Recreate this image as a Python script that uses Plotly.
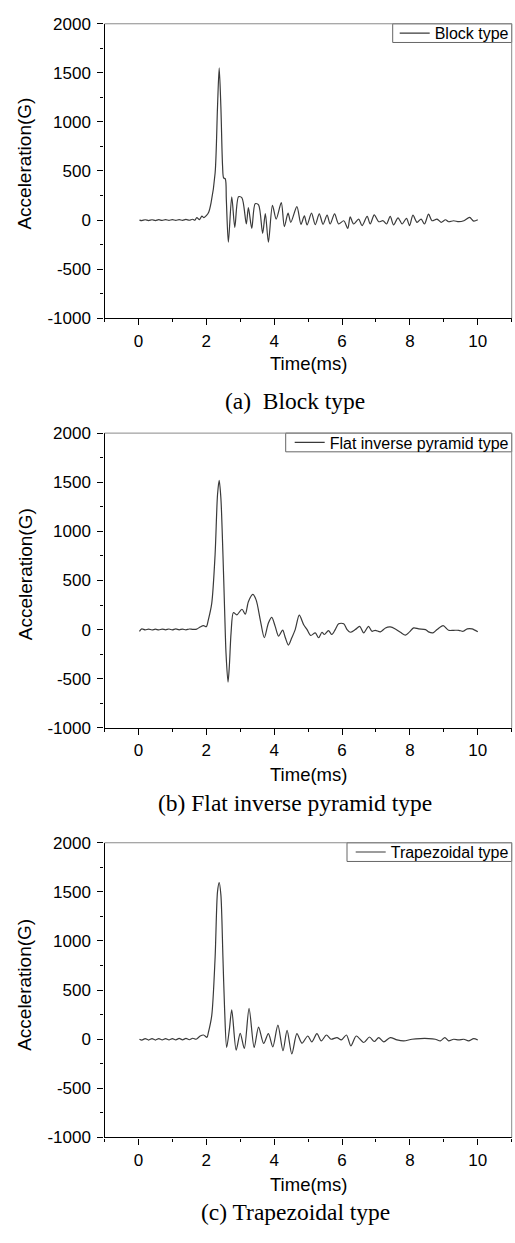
import plotly.graph_objects as go

# ---------------- data ----------------
t_block = [0.03, 0.10, 0.20, 0.30, 0.40, 0.50, 0.60, 0.70, 0.80, 0.90, 1.00, 1.10, 1.20, 1.30,
           1.40, 1.50, 1.60, 1.66, 1.72, 1.80, 1.87, 1.93, 2.00, 2.07, 2.14, 2.26, 2.33, 2.38,
           2.43, 2.48, 2.51, 2.56, 2.59, 2.65, 2.75, 2.84, 2.95, 3.05, 3.18, 3.24, 3.34, 3.44,
           3.54, 3.66, 3.74, 3.83, 3.95, 4.06, 4.21, 4.30, 4.41, 4.49, 4.67, 4.79, 4.89, 4.97,
           5.10, 5.21, 5.33, 5.44, 5.56, 5.65, 5.78, 5.90, 6.05, 6.17, 6.24, 6.34, 6.49, 6.59,
           6.74, 6.83, 6.95, 7.08, 7.21, 7.31, 7.42, 7.52, 7.65, 7.77, 7.90, 7.99, 8.09, 8.21,
           8.33, 8.43, 8.55, 8.65, 8.80, 8.92, 9.05, 9.14, 9.29, 9.44, 9.59, 9.76, 9.88, 10.0]
a_block = [0, -5, 3, -5, 3, -5, 4, -4, 5, -4, 5, -4, 5, -3,
           6, -2, 8, -2, 25, 5, 40, 25, 45, 80, 175, 480, 1150, 1550,
           1150, 545, 430, 420, 210, -225, 237, -75, 237, 227, -40, 127, -85, 167,
           154, -135, 67, -225, 150, 10, 177, -67, 70, -23, 137, -43, 43, -50,
           70, -47, 63, -43, 50, -40, 63, -40, -7, -85, 33, -40, 10, -57,
           37, -40, 53, -17, -7, -40, 37, -50, 23, -40, 17, -57, 50, -23,
           10, -40, 60, -7, 10, -23, 3, -17, -7, -17, -7, 27, -10, 3]

t_pyramid = [0.03, 0.10, 0.20, 0.30, 0.40, 0.50, 0.60, 0.70, 0.80, 0.90, 1.00, 1.10, 1.20, 1.30,
             1.40, 1.50, 1.60, 1.72, 1.82, 1.92, 2.00, 2.06, 2.16, 2.26, 2.33, 2.38, 2.43, 2.49,
             2.54, 2.58, 2.64, 2.68, 2.73, 2.80, 2.90, 3.05, 3.15, 3.24, 3.37, 3.47, 3.59, 3.71,
             3.83, 3.93, 4.03, 4.13, 4.25, 4.33, 4.42, 4.52, 4.62, 4.74, 4.87, 4.97, 5.08, 5.21,
             5.31, 5.41, 5.48, 5.60, 5.70, 5.80, 5.90, 6.05, 6.15, 6.24, 6.39, 6.52, 6.64, 6.78,
             6.88, 6.98, 7.13, 7.28, 7.42, 7.57, 7.72, 7.87, 7.99, 8.11, 8.26, 8.46, 8.55, 8.68,
             8.80, 8.98, 9.14, 9.29, 9.44, 9.57, 9.69, 9.83, 10.0]
a_pyramid = [-17, 7, -3, 5, -4, 4, -3, 5, -2, 6, -3, 7, -2, 5,
             -3, 6, 2, 5, 27, 40, 30, 100, 267, 770, 1370, 1520, 1337, 770,
             200, -234, -535, -368, -33, 174, 150, 207, 157, 284, 358, 300, 100, -83,
             67, 124, 33, -67, -5, -83, -157, -83, 0, 147, 50, 0, -60, -33,
             -83, -27, -50, -10, -50, 0, 60, 60, 0, -27, 0, 33, -33, 33,
             -17, -7, -23, 17, 27, 7, -27, -57, -23, 17, 7, 0, -23, -33,
             0, 40, -7, -7, -7, -17, 7, 7, -23]

t_trap = [0.03, 0.10, 0.20, 0.30, 0.40, 0.50, 0.60, 0.70, 0.80, 0.90, 1.00, 1.10, 1.20, 1.30,
          1.40, 1.50, 1.60, 1.70, 1.82, 1.92, 2.02, 2.06, 2.16, 2.26, 2.33, 2.38, 2.43, 2.49,
          2.54, 2.60, 2.68, 2.75, 2.88, 3.00, 3.12, 3.26, 3.41, 3.54, 3.69, 3.83, 3.96, 4.11,
          4.26, 4.38, 4.52, 4.67, 4.82, 4.99, 5.11, 5.26, 5.39, 5.54, 5.68, 5.85, 5.98, 6.13,
          6.26, 6.42, 6.64, 6.81, 6.95, 7.08, 7.23, 7.42, 7.62, 7.82, 8.06, 8.31, 8.55, 8.75,
          8.90, 9.03, 9.14, 9.29, 9.44, 9.59, 9.73, 9.88, 10.0]
a_trap = [0, -8, 6, -8, 6, -8, 6, -7, 7, -7, 7, -6, 8, -6,
          8, -5, 10, 0, 33, 43, 20, 67, 240, 835, 1500, 1595, 1470, 835,
          300, -84, 100, 300, -110, 60, -94, 314, -84, 124, -43, 57, -77, 144,
          -117, 90, -150, 57, -40, 33, -27, 57, -17, 43, 0, 17, -7, 43,
          -67, 33, -33, 23, -23, 17, -27, 17, -7, -17, 0, 7, 7, 0,
          -17, 17, -17, 0, -7, 0, -17, 7, -7]

names = ["Block type", "Flat inverse pyramid type", "Trapezoidal type"]
captions = ["(a)  Block type", "(b) Flat inverse pyramid type", "(c) Trapezoidal type"]
times = [t_block, t_pyramid, t_trap]
accels = [a_block, a_pyramid, a_trap]

x_title = "Time(ms)"
y_title = "Acceleration(G)"
x_ticks = [0, 2, 4, 6, 8, 10]
x_ticktext = ["0", "2", "4", "6", "8", "10"]
y_ticks = [-1000, -500, 0, 500, 1000, 1500, 2000]
y_ticktext = ["-1000", "-500", "0", "500", "1000", "1500", "2000"]

# ---------------- layout geometry (pixels) ----------------
W, H = 515, 1243
PX_L, PX_R = 104.5, 511.7
panels_px = [(15, 314), (430.7, 730), (846.7, 1146)]        # top, bottom of plot areas
xlab_y = [360, 777, 1194]
cap_y = [398, 806, 1222]
ytitle_y = [157, 574, 991]
legend_box_left = [392.7, 285.7, 347.0]                      # legend frame left edge
legend_box_h = 19
legend_text_w = [74, 179, 118]                               # approx text width at 16px

def fx(px):
    return px / W

def fy(py):
    return 1 - py / H

SANS = "Liberation Sans, Arial, sans-serif"
SERIF = "Liberation Serif, Times New Roman, serif"

fig = go.Figure()
layout = dict(
    width=W, height=H, margin=dict(l=0, r=0, t=0, b=0),
    paper_bgcolor="white", plot_bgcolor="white", showlegend=True,
    font=dict(family=SANS, size=16, color="black"),
)
annotations = []
shapes = []

for i in range(3):
    k = "" if i == 0 else str(i + 1)
    top, bot = panels_px[i]
    leg = "legend" if i == 0 else f"legend{i + 1}"
    fig.add_trace(go.Scatter(
        x=times[i], y=accels[i], mode="lines", name=names[i],
        line=dict(color="#3a3a3a", width=1.2, shape="spline", smoothing=0.8),
        xaxis="x" + k, yaxis="y" + k, legend=leg,
    ))
    layout["xaxis" + k] = dict(
        domain=[fx(PX_L), fx(PX_R)], anchor="y" + k, range=[-1, 11],
        tickvals=x_ticks, ticktext=x_ticktext,
        ticks="outside", ticklen=6, tickwidth=1.2, tickcolor="black",
        minor=dict(dtick=1, tick0=0, ticks="outside", ticklen=3, tickwidth=1, tickcolor="black"),
        showline=True, linecolor="black", linewidth=1.3, showgrid=False, zeroline=False,
        tickfont=dict(family=SANS, size=17, color="black"), ticklabelstandoff=1,
    )
    layout["yaxis" + k] = dict(
        domain=[fy(bot), fy(top)], anchor="x" + k, range=[-1000, 2000],
        tickvals=y_ticks, ticktext=y_ticktext,
        ticks="outside", ticklen=6, tickwidth=1.2, tickcolor="black",
        minor=dict(dtick=250, tick0=0, ticks="outside", ticklen=3, tickwidth=1, tickcolor="black"),
        showline=True, linecolor="black", linewidth=1.3, showgrid=False, zeroline=False,
        tickfont=dict(family=SANS, size=17, color="black"), ticklabelstandoff=3,
    )
    # real legend, transparent, placed inside a compact frame like the reference
    leg_left = PX_R - 3 - legend_text_w[i] - 40
    layout[leg] = dict(
        x=fx(leg_left), xanchor="left", y=fy(top + legend_box_h / 2), yanchor="middle",
        bgcolor="rgba(0,0,0,0)", borderwidth=0,
        font=dict(family=SANS, size=16, color="black"),
        itemwidth=30, tracegroupgap=0,
    )
    shapes.append(dict(type="rect", xref="paper", yref="paper",
                       x0=fx(legend_box_left[i]), x1=fx(PX_R),
                       y0=fy(top + legend_box_h), y1=fy(top),
                       line=dict(color="#666666", width=1), fillcolor="rgba(0,0,0,0)"))
    # top and right frame lines (lighter grey)
    shapes.append(dict(type="line", xref=f"x{k} domain", yref=f"y{k} domain",
                       x0=0, x1=1, y0=1, y1=1, line=dict(color="#8a8a8a", width=1)))
    shapes.append(dict(type="line", xref=f"x{k} domain", yref=f"y{k} domain",
                       x0=1, x1=1, y0=0, y1=1, line=dict(color="#8a8a8a", width=1)))
    annotations.append(dict(text=x_title, xref="paper", yref="paper",
                            x=fx((PX_L + PX_R) / 2), y=fy(xlab_y[i]), showarrow=False,
                            xanchor="center", yanchor="middle",
                            font=dict(family=SANS, size=18.5, color="black")))
    annotations.append(dict(text=y_title, xref="paper", yref="paper",
                            x=fx(25), y=fy(ytitle_y[i]), showarrow=False, textangle=-90,
                            xanchor="center", yanchor="middle",
                            font=dict(family=SANS, size=19, color="black")))
    annotations.append(dict(text=captions[i], xref="paper", yref="paper",
                            x=fx(295), y=fy(cap_y[i]), showarrow=False,
                            xanchor="center", yanchor="middle",
                            font=dict(family=SERIF, size=23.5, color="black")))

layout["annotations"] = annotations
layout["shapes"] = shapes
fig.update_layout(**layout)
fig.write_html("out.html")
